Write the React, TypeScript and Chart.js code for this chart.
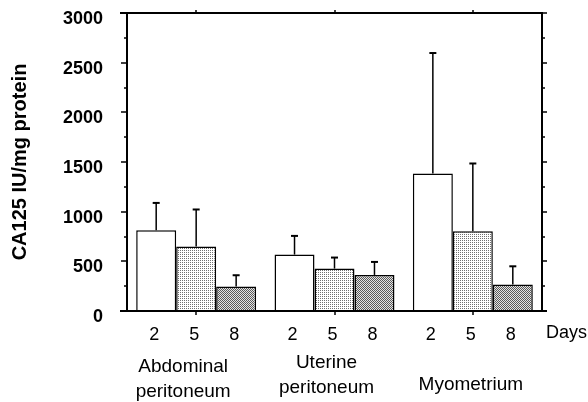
import React, { useEffect, useRef } from 'react';
import { Chart, registerables } from 'chart.js';
Chart.register(...registerables);

const categories: string[][] = [['Abdominal', 'peritoneum'], ['Uterine', 'peritoneum'], ['Myometrium']];
const dayLabels = ['2', '5', '8'];
const day2Mean = [813, 568, 1385];
const day5Mean = [649, 427, 803];
const day8Mean = [246, 363, 266];
const day2SD = [275, 188, 1212];
const day5SD = [373, 111, 682];
const day8SD = [114, 131, 184];
const yTicks = [0, 500, 1000, 1500, 2000, 2500, 3000];
const xUnitLabel = 'Days';
const yTitle = 'CA125 IU/mg protein';

const FONT = '"Liberation Sans", Arial, sans-serif';

function makePattern(kind: 'light' | 'dark'): CanvasPattern | string {
  const c = document.createElement('canvas');
  c.width = 2; c.height = 2;
  const g = c.getContext('2d');
  if (!g) return '#ccc';
  if (kind === 'light') {
    g.fillStyle = '#ffffff'; g.fillRect(0, 0, 2, 2);
    g.fillStyle = '#707070'; g.fillRect(0, 0, 1, 1);
  } else {
    g.fillStyle = '#e4e4e4'; g.fillRect(0, 0, 2, 2);
    g.fillStyle = '#5a5a5a'; g.fillRect(0, 0, 1, 1); g.fillRect(1, 1, 1, 1);
  }
  const p = g.createPattern(c, 'repeat');
  return p || '#ccc';
}

const means = [day2Mean, day5Mean, day8Mean];
const sds = [day2SD, day5SD, day8SD];

const customPlugin = {
  id: 'customDecor',
  afterDatasetsDraw(chart: any) {
    const ctx = chart.ctx;
    const y = chart.scales.y;
    ctx.save();
    ctx.strokeStyle = '#000';
    chart.data.datasets.forEach((_ds: any, i: number) => {
      const meta = chart.getDatasetMeta(i);
      meta.data.forEach((el: any, j: number) => {
        const top = y.getPixelForValue(means[i][j] + sds[i][j]);
        ctx.lineWidth = 1.5;
        ctx.beginPath();
        ctx.moveTo(el.x, el.y);
        ctx.lineTo(el.x, top);
        ctx.stroke();
        ctx.lineWidth = 2;
        ctx.beginPath();
        ctx.moveTo(el.x - 3.5, top);
        ctx.lineTo(el.x + 3.5, top);
        ctx.stroke();
      });
    });
    ctx.restore();
  },
  afterDraw(chart: any) {
    const ctx = chart.ctx;
    const ca = chart.chartArea;
    const y = chart.scales.y;
    const x = chart.scales.x;
    ctx.save();
    ctx.strokeStyle = '#000';
    ctx.lineWidth = 2;
    ctx.beginPath();
    ctx.moveTo(ca.left, ca.top);
    ctx.lineTo(ca.left, ca.bottom + 1);
    ctx.moveTo(ca.left - 7, ca.top);
    ctx.lineTo(ca.right, ca.top);
    ctx.moveTo(ca.right, ca.top - 1);
    ctx.lineTo(ca.right, ca.bottom);
    ctx.moveTo(ca.left - 7, ca.bottom);
    ctx.lineTo(ca.right + 5, ca.bottom);
    ctx.stroke();

    // major and minor ticks on left and right
    ctx.lineWidth = 1.5;
    const values: { v: number; major: boolean }[] = [];
    yTicks.forEach((v, k) => {
      values.push({ v, major: true });
      if (k < yTicks.length - 1) values.push({ v: (v + yTicks[k + 1]) / 2, major: false });
    });
    values.forEach(({ v, major }) => {
      const py = Math.round(y.getPixelForValue(v));
      ctx.beginPath();
      ctx.moveTo(ca.left - (major ? 6 : 3), py);
      ctx.lineTo(ca.left, py);
      ctx.moveTo(ca.right, py);
      ctx.lineTo(ca.right + (major ? 5 : 3), py);
      ctx.stroke();
    });

    // category ticks top and bottom
    categories.forEach((_c, i) => {
      const px = Math.round(x.getPixelForValue(i));
      ctx.beginPath();
      ctx.moveTo(px, ca.bottom);
      ctx.lineTo(px, ca.bottom + 4);
      ctx.moveTo(px, ca.top);
      ctx.lineTo(px, ca.top - 3);
      ctx.stroke();
    });

    // day labels
    ctx.fillStyle = '#000';
    ctx.font = `18px ${FONT}`;
    ctx.textAlign = 'center';
    ctx.textBaseline = 'middle';
    chart.data.datasets.forEach((_ds: any, i: number) => {
      const meta = chart.getDatasetMeta(i);
      meta.data.forEach((el: any) => {
        ctx.fillText(dayLabels[i], el.x - 2, ca.bottom + 24);
      });
    });

    // category labels
    ctx.font = `19px ${FONT}`;
    const offs = [{ dx: -13, dy: 1 }, { dx: -8, dy: -3 }, { dx: -2, dy: 19 }];
    categories.forEach((lines, i) => {
      const px = x.getPixelForValue(i);
      lines.forEach((line, k) => {
        ctx.fillText(line, px + offs[i].dx, ca.bottom + 55 + offs[i].dy + k * 25);
      });
    });

    // unit label
    ctx.font = `18px ${FONT}`;
    ctx.textAlign = 'left';
    ctx.fillText(xUnitLabel, ca.right + 4, ca.bottom + 22);
    ctx.restore();
  },
};

export default function App() {
  const ref = useRef<HTMLCanvasElement | null>(null);
  useEffect(() => {
    if (!ref.current) return;
    const light = makePattern('light');
    const dark = makePattern('dark');
    const fills = ['#ffffff', light, dark];
    const chart = new Chart(ref.current, {
      type: 'bar',
      data: {
        labels: categories.map((c) => c.join(' ')),
        datasets: [day2Mean, day5Mean, day8Mean].map((d, i) => ({
          label: dayLabels[i],
          data: d,
          backgroundColor: fills[i] as any,
          borderColor: '#000',
          borderWidth: 1.5,
          categoryPercentage: 0.867,
          barPercentage: 1,
        })),
      },
      options: {
        animation: false,
        responsive: false,
        devicePixelRatio: 1,
        layout: { padding: { top: 13, right: 46, left: 0, bottom: 0 } },
        plugins: { legend: { display: false }, tooltip: { enabled: false } },
        scales: {
          x: {
            grid: { display: false },
            border: { display: false },
            ticks: { display: false },
            afterFit: (s: any) => { s.height = 91; s.paddingLeft = 0; s.paddingRight = 0; },
          },
          y: {
            min: 0,
            max: 3000,
            grid: { display: false },
            border: { display: false },
            afterBuildTicks: (s: any) => { s.ticks = yTicks.map((v) => ({ value: v })); },
            ticks: {
              color: '#000',
              font: { family: FONT, size: 18, weight: 'bold' },
              padding: 16,
              labelOffset: 6,
              callback: (v: any) => String(v),
            },
            title: {
              display: true,
              text: yTitle,
              color: '#000',
              font: { family: FONT, size: 20, weight: 'bold' },
              padding: { top: 8, bottom: 0 },
            },
            afterFit: (s: any) => { s.width = 127; s.paddingTop = 0; s.paddingBottom = 0; },
          },
        },
      },
      plugins: [customPlugin],
    });
    return () => chart.destroy();
  }, []);
  return (
    <div style={{ position: 'absolute', left: 0, top: 0, width: 588, height: 402, background: '#fff' }}>
      <canvas ref={ref} width={588} height={402} />
    </div>
  );
}
